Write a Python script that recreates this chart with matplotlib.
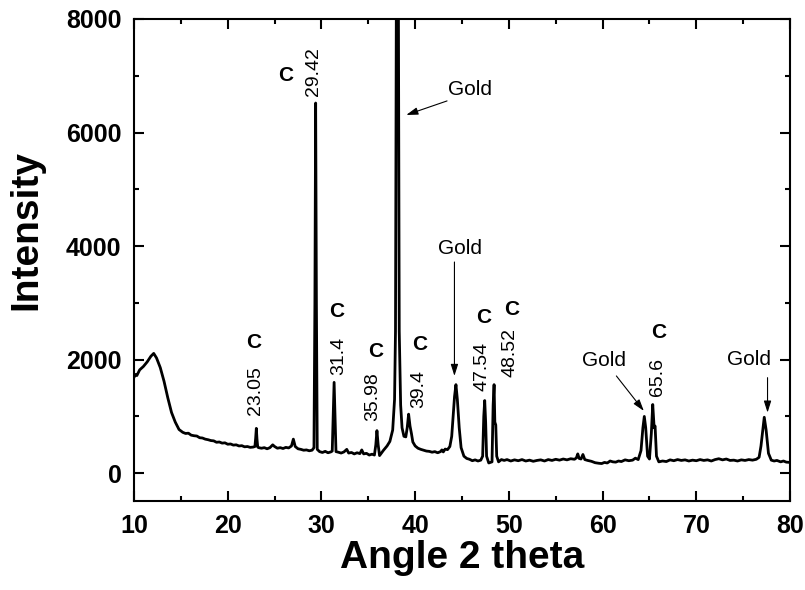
import matplotlib
matplotlib.use('Agg')
import matplotlib.pyplot as plt
from matplotlib.ticker import MultipleLocator

plt.rcParams['font.family'] = ['Liberation Sans', 'DejaVu Sans']

# XRD pattern (2 theta, counts)
two_theta = [
    # hump at low angle
    10.0, 10.15, 10.3, 10.6, 11.0, 11.4, 11.8, 12.1, 12.4, 12.8, 13.2, 13.6,
    14.0, 14.4, 14.8,
    # slow decline
    15.2, 15.5, 15.8, 16.1, 16.4, 16.7, 17.0, 17.3, 17.6, 17.9, 18.2, 18.5,
    18.8, 19.1, 19.4, 19.7, 20.0, 20.3, 20.6, 20.9, 21.2, 21.5, 21.8, 22.1,
    22.4, 22.7,
    # 23.05
    22.9, 22.98, 23.05, 23.12, 23.2,
    23.3, 23.6, 23.9, 24.2, 24.5, 24.8, 25.0, 25.3, 25.6, 25.9, 26.2, 26.5,
    26.8, 27.0, 27.2, 27.5, 27.8, 28.1, 28.4, 28.7, 29.0, 29.2,
    # 29.42
    29.3, 29.38, 29.46, 29.55,
    29.8, 30.1, 30.4, 30.7, 31.0, 31.15,
    # 31.4
    31.25, 31.35, 31.45, 31.55,
    31.8, 32.1, 32.4, 32.7, 32.9, 33.2, 33.5, 33.8, 34.1, 34.3, 34.5, 34.8,
    35.1, 35.4, 35.65,
    # 35.98
    35.8, 35.92, 36.05, 36.2,
    # gold (111) and 39.4
    36.6, 37.0, 37.3, 37.6, 37.8, 37.9, 38.0, 38.1, 38.2, 38.3, 38.45, 38.6,
    38.8, 39.0, 39.15, 39.3, 39.45, 39.6, 39.75,
    40.0, 40.3, 40.6, 40.9, 41.2, 41.5, 41.8, 42.1, 42.4, 42.7, 42.85, 43.0,
    43.2, 43.45, 43.7,
    # gold (200)
    43.9, 44.05, 44.2, 44.35, 44.5, 44.7, 44.9,
    45.2, 45.5, 45.8, 46.1, 46.4, 46.7, 47.0, 47.2,
    # 47.54, 48.52
    47.32, 47.42, 47.52, 47.62, 47.85, 48.2, 48.32, 48.42, 48.5, 48.6, 48.7,
    48.9, 49.2, 49.5, 49.8, 50.2, 50.6, 51.0, 51.4, 51.8, 52.2, 52.6, 53.0,
    53.4, 53.8, 54.2, 54.6, 55.0, 55.4, 55.8, 56.2, 56.6, 57.0, 57.2, 57.35,
    57.5, 57.7, 57.9, 58.1, 58.4, 58.8, 59.2, 59.6, 59.9, 60.2, 60.5, 60.8,
    61.1, 61.4, 61.7, 62.0, 62.4, 62.8, 63.2, 63.5, 63.8,
    # gold (220) and 65.6
    64.1, 64.3, 64.45, 64.6, 64.8, 65.0, 65.2, 65.35, 65.5, 65.6, 65.75,
    66.0, 66.4, 66.8, 67.2, 67.6, 68.0, 68.4, 68.8, 69.2, 69.6, 70.0, 70.4,
    70.8, 71.2, 71.6, 72.0, 72.4, 72.8, 73.2, 73.6, 74.0, 74.4, 74.8, 75.2,
    75.6, 76.0, 76.4, 76.7,
    # gold (311)
    76.9, 77.05, 77.25, 77.45, 77.7,
    78.0, 78.3, 78.6, 79.0, 79.3, 79.6, 80.0,
]
intensity = [
    1690, 1740, 1720, 1820, 1880, 1960, 2060, 2110, 2030, 1860, 1620, 1330,
    1070, 900, 770,
    720, 700, 705, 670, 660, 655, 625, 620, 600, 590, 575, 570,
    545, 550, 530, 535, 510, 515, 495, 500, 480, 485, 465, 470,
    455, 460,
    470, 620, 790, 600, 460,
    450, 440, 450, 430, 450, 500, 470, 440, 450, 435, 455, 445,
    480, 600, 470, 430, 420, 405, 410, 395, 405, 450,
    3000, 6520, 3000, 420,
    380, 365, 385, 360, 375, 390,
    1000, 1600, 1000, 380,
    370, 355, 375, 420, 355, 365, 340, 360, 345, 410, 340, 350,
    320, 335, 320,
    500, 750, 500, 310,
    400, 480, 560, 760, 1300, 2500, 9000, 30000, 9000, 2500, 1200, 800,
    650, 640, 800, 1040, 830, 700, 550,
    480, 440, 420, 405, 390, 385, 370, 380, 360, 380, 410, 375,
    425, 415, 470,
    650, 1000, 1350, 1560, 1300, 800, 450,
    300, 260, 245, 220, 235, 215, 230, 300,
    1000, 1280, 900, 300, 180, 200, 1200, 1560, 900, 850, 300,
    200, 240, 225, 240, 215, 235, 220, 240, 215, 230, 210, 225,
    235, 215, 240, 225, 245, 230, 250, 235, 255, 245, 270, 340,
    260, 250, 330, 240, 225, 210, 185, 175, 170, 190, 180, 215,
    200, 195, 215, 205, 235, 220, 230, 265, 240,
    400, 800, 1000, 800, 300, 250, 700, 1210, 800, 830, 300,
    200, 215, 205, 235, 220, 240, 225, 235, 215, 230, 220, 240,
    225, 235, 215, 240, 255, 235, 250, 225, 230, 215, 235, 225,
    240, 230, 245, 280,
    480, 700, 985, 760, 350,
    230, 215, 225, 200, 215, 195, 190,
]

# carbon peak labels: value, "C" position, number position
c_labels = ['23.05', '29.42', '31.4', '35.98', '39.4', '47.54', '48.52', '65.6']
c_pos = [(22.75, 2295), (26.18, 7012), (31.65, 2840), (35.83, 2136),
         (40.44, 2259), (47.3, 2734), (50.3, 2875), (65.95, 2470)]
num_pos = [(22.97, 1449), (29.19, 7067), (31.86, 2066), (35.5, 1343),
           (40.33, 1484), (47.08, 1872), (50.09, 2118), (65.84, 1695)]

# gold arrows: text position, arrow tail, arrow tip
gold_text = [(45.8, 6767), (44.83, 3950), (60.12, 1977), (75.67, 1995)]
gold_tail = [(43.4, 6557), (44.19, 3720), (61.47, 1713), (77.6, 1683)]
gold_tip = [(39.05, 6310), (44.19, 1713), (64.4, 1097), (77.6, 1067)]


fig = plt.figure(figsize=(8.05, 5.9), dpi=100)
ax = fig.add_axes([0.1665, 0.1508, 0.8149, 0.817])

ax.plot(two_theta, intensity, color='black', lw=2.0)

ax.set_xlim(10, 80)
ax.set_ylim(-490, 8000)
ax.xaxis.set_major_locator(MultipleLocator(10))
ax.xaxis.set_minor_locator(MultipleLocator(5))
ax.yaxis.set_major_locator(MultipleLocator(2000))
ax.yaxis.set_minor_locator(MultipleLocator(1000))
ax.tick_params(which='both', direction='in', top=True, right=True, width=1.5)
ax.tick_params(which='major', length=7, labelsize=18, pad=9)
ax.tick_params(which='minor', length=3.5)
for lab in ax.get_xticklabels() + ax.get_yticklabels():
    lab.set_fontweight('bold')
for sp in ax.spines.values():
    sp.set_linewidth(1.5)

ax.set_xlabel('Angle 2 theta', fontsize=28, fontweight='bold')
ax.set_ylabel('Intensity', fontsize=28, fontweight='bold')
ax.xaxis.set_label_coords(0.5, -0.08)
ax.yaxis.set_label_coords(-0.136, 0.562)

for lab, cp, npos in zip(c_labels, c_pos, num_pos):
    ax.text(cp[0], cp[1], 'C', fontsize=15, fontweight='bold',
            ha='center', va='center')
    ax.text(npos[0], npos[1], lab, fontsize=14, rotation=90,
            ha='center', va='center')

for tp, tl, tip in zip(gold_text, gold_tail, gold_tip):
    ax.text(tp[0], tp[1], 'Gold', fontsize=15, ha='center', va='center')
    ax.annotate('', xy=tip, xytext=tl,
                arrowprops=dict(arrowstyle='-|>,head_length=0.7,head_width=0.22',
                                color='black', lw=0.8, shrinkA=0, shrinkB=0))

fig.savefig('out.png', dpi=100)
